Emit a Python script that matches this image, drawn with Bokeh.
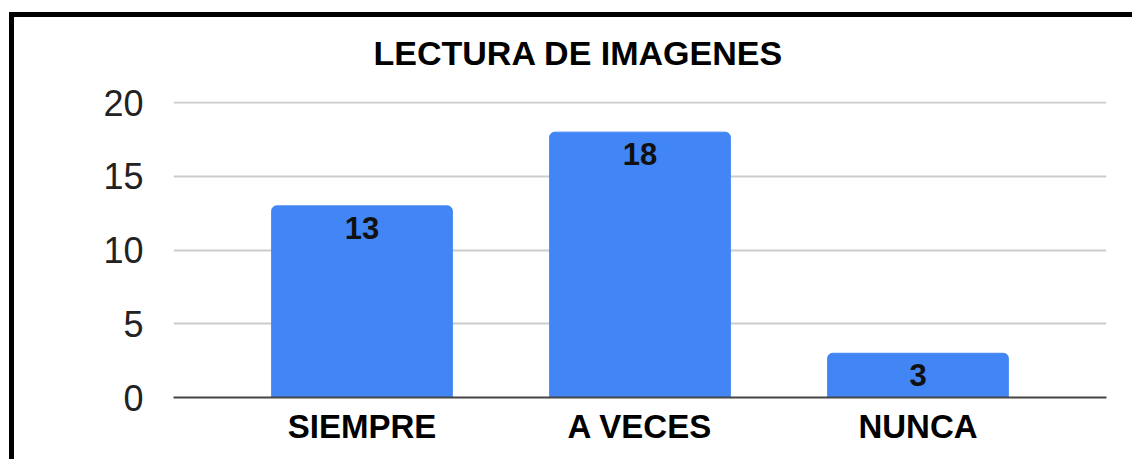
from bokeh.plotting import figure
from bokeh.models import FactorRange, Range1d, FixedTicker, ColumnDataSource, InlineStyleSheet
from bokeh.core.properties import value
from bokeh.embed import file_html
from bokeh.resources import INLINE

title_text = "LECTURA DE IMAGENES"
categories = ["SIEMPRE", "A VECES", "NUNCA"]
counts = [13, 18, 3]
y_ticks = [0, 5, 10, 15, 20]

FONT = "Liberation Sans"
BAR = "#4285F4"

src = ColumnDataSource(dict(cat=categories, val=counts, lab=[str(v) for v in counts]))

p = figure(
    width=1132, height=459,
    x_range=FactorRange(*categories, range_padding=0.1187),
    y_range=Range1d(0, 20.08),
    output_backend="svg", toolbar_location=None,
    min_border_left=173, min_border_right=26, min_border_top=101, min_border_bottom=62,
    title=title_text,
)

# black box edge (top + left) of the chart area, drawn over the canvas
p.stylesheets = [InlineStyleSheet(css="""
:host { position: relative; }
:host::after {
  content: ""; position: absolute; left: 9px; top: 12px; right: 0; bottom: 0;
  border-top: 5px solid black; border-left: 5px solid black;
  pointer-events: none; z-index: 100;
}
""")]

p.title.text_font = FONT
p.title.text_font_style = "bold"
p.title.text_font_size = "34px"
p.title.text_color = "#000000"
p.title.align = "left"
p.title.offset = 200
p.title.standoff = 60

p.outline_line_color = None
p.background_fill_color = "white"
p.border_fill_color = "white"

p.vbar(x="cat", top="val", width=0.65, source=src, color=BAR,
       border_radius=(5, 5, 0, 0))

p.text(x="cat", y="val", text="lab", source=src,
       text_align="center", text_baseline="top", y_offset=11,
       text_font=value(FONT), text_font_style="bold",
       text_font_size="31px", text_color="#111111")

p.xgrid.grid_line_color = None
p.ygrid.grid_line_color = "#cccccc"
p.ygrid.grid_line_width = 2
p.yaxis.ticker = FixedTicker(ticks=y_ticks)

p.yaxis.axis_line_color = None
p.yaxis.major_tick_line_color = None
p.yaxis.minor_tick_line_color = None
p.yaxis.major_label_standoff = 24
p.yaxis.major_label_text_font = FONT
p.yaxis.major_label_text_font_size = "36px"
p.yaxis.major_label_text_color = "#222222"

p.xaxis.axis_line_color = "#444444"
p.xaxis.axis_line_width = 2
p.xaxis.major_tick_line_color = None
p.xaxis.minor_tick_line_color = None
p.xaxis.major_label_standoff = 4
p.xaxis.major_label_text_font = FONT
p.xaxis.major_label_text_font_style = "bold"
p.xaxis.major_label_text_font_size = "33px"
p.xaxis.major_label_text_color = "#000000"

open("out.html", "w").write(file_html(p, INLINE))
